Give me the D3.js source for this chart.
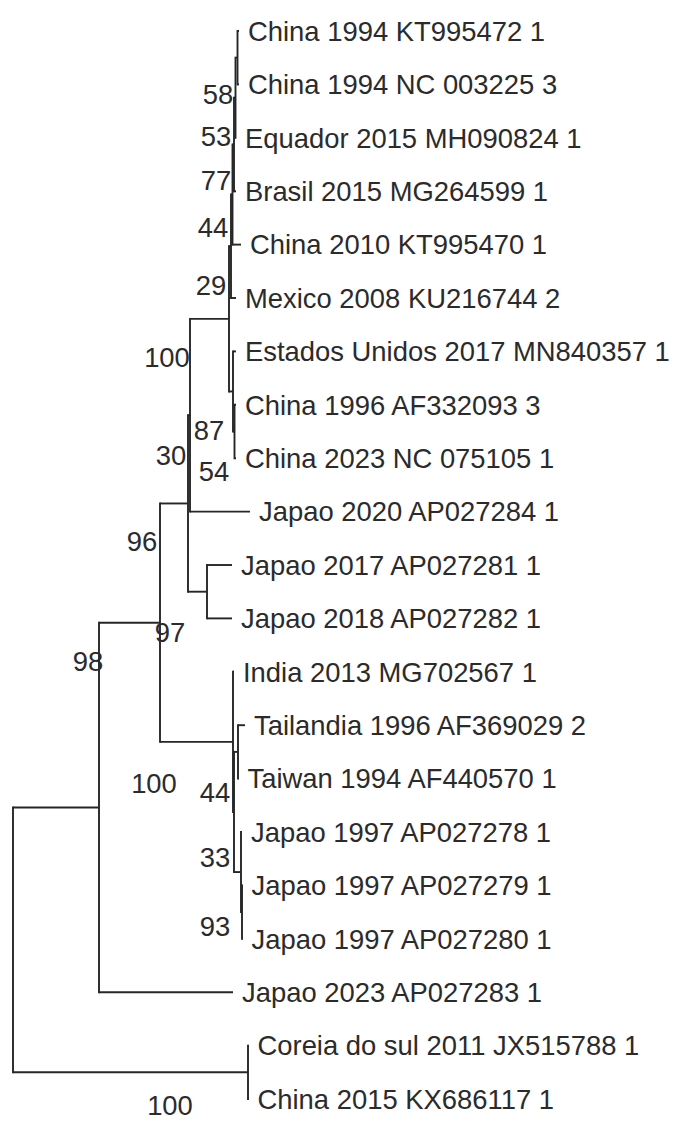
<!DOCTYPE html>
<html>
<head>
<meta charset="utf-8">
<script src="https://cdn.jsdelivr.net/npm/d3@7"></script>
<style>
  html, body { margin: 0; padding: 0; background: #fff; }
  svg { display: block; }
  text { font-family: "Liberation Sans", Arial, sans-serif; fill: #2b2b2b; }
</style>
</head>
<body>
<svg id="chart" width="673" height="1124"></svg>
<script>
// ---- DATA ----
// Leaf taxa, in drawing order (top to bottom)
const taxa = [
  "China 1994 KT995472 1",
  "China 1994 NC 003225 3",
  "Equador 2015 MH090824 1",
  "Brasil 2015 MG264599 1",
  "China 2010 KT995470 1",
  "Mexico 2008 KU216744 2",
  "Estados Unidos 2017 MN840357 1",
  "China 1996 AF332093 3",
  "China 2023 NC 075105 1",
  "Japao 2020 AP027284 1",
  "Japao 2017 AP027281 1",
  "Japao 2018 AP027282 1",
  "India 2013 MG702567 1",
  "Tailandia 1996 AF369029 2",
  "Taiwan 1994 AF440570 1",
  "Japao 1997 AP027278 1",
  "Japao 1997 AP027279 1",
  "Japao 1997 AP027280 1",
  "Japao 2023 AP027283 1",
  "Coreia do sul 2011 JX515788 1",
  "China 2015 KX686117 1"
];

// Edges: [node, parent, branch length]
const edges = [
  ["root", "", 0],
  ["A", "root", 0.086],
  ["G", "root", 0.235],
  ["B", "A", 0.061],
  ["Japao 2023 AP027283 1", "A", 0.134],
  ["C2", "B", 0.028],
  ["F", "B", 0.073],
  ["C1", "C2", 0.002],
  ["E", "C2", 0.019],
  ["D", "C1", 0.039],
  ["Japao 2020 AP027284 1", "C1", 0.060],
  ["n29", "D", 0.002],
  ["n54", "D", 0.004],
  ["n44", "n29", 0.0015],
  ["Mexico 2008 KU216744 2", "n29", 0.005],
  ["n77", "n44", 0.0015],
  ["China 2010 KT995470 1", "n44", 0.0085],
  ["n53", "n77", 0.0015],
  ["Brasil 2015 MG264599 1", "n77", 0.002],
  ["n58", "n53", 0.002],
  ["Equador 2015 MH090824 1", "n53", 0.0005],
  ["China 1994 KT995472 1", "n58", 0.0015],
  ["China 1994 NC 003225 3", "n58", 0.0015],
  ["Estados Unidos 2017 MN840357 1", "n54", 0.003],
  ["n87", "n54", 0.0015],
  ["China 1996 AF332093 3", "n87", 0.0015],
  ["China 2023 NC 075105 1", "n87", 0.0015],
  ["Japao 2017 AP027281 1", "E", 0.025],
  ["Japao 2018 AP027282 1", "E", 0.025],
  ["India 2013 MG702567 1", "F", 0.001],
  ["nF2", "F", 0.001],
  ["nTT", "nF2", 0.004],
  ["n33", "nF2", 0.007],
  ["Tailandia 1996 AF369029 2", "nTT", 0.007],
  ["Taiwan 1994 AF440570 1", "nTT", 0.0005],
  ["Japao 1997 AP027278 1", "n33", 0.001],
  ["n93", "n33", 0.001],
  ["Japao 1997 AP027279 1", "n93", 0.0005],
  ["Japao 1997 AP027280 1", "n93", 0.0005],
  ["Coreia do sul 2011 JX515788 1", "G", 0.0005],
  ["China 2015 KX686117 1", "G", 0.0005]
];

// Bootstrap support values: [node, value]
const bootstrap = [
  ["n58", 58], ["n53", 53], ["n77", 77], ["n44", 44], ["n29", 29],
  ["D", 100], ["n54", 87], ["n87", 54], ["C1", 30], ["C2", 96],
  ["B", 97], ["A", 98], ["F", 100], ["nF2", 44], ["n33", 33],
  ["n93", 93], ["G", 100]
];

// ---- LAYOUT (label placement relative to node) ----
const supportOffset = {
  n58: [-19.5, 36.5], n53: [-19.5, 38.5], n77: [-18, 36], n44: [-19.5, 33],
  n29: [-20, 38.5], D: [-62, 38], n54: [-24, 38.5], n87: [-20.5, 39.5],
  C1: [-19, 39.5], C2: [-46, 37.5], B: [10, 9.5], A: [-11, -146.5],
  F: [-79, 41], nF2: [-19, -20], n33: [-26, -15], n93: [-27, 14],
  G: [-78, 33]
};

const svg = d3.select("#chart");
const FONT = 27.4;
const lineColor = "#262626";

const root = d3.stratify()
  .id(d => d[0])
  .parentId(d => d[1] === "" ? null : d[1])(edges);

// cumulative distance from root
root.eachBefore(n => {
  n.dist = n.parent ? n.parent.dist + n.data[2] : 0;
});

const leafIndex = new Map(taxa.map((t, i) => [t, i]));
root.eachAfter(n => {
  n.minLeaf = n.children ? d3.min(n.children, c => c.minLeaf) : leafIndex.get(n.id);
});
root.sort((a, b) => a.minLeaf - b.minLeaf);

const x = d3.scaleLinear().domain([0, 0.25]).range([13, 263]);
const y = d3.scalePoint().domain(taxa).range([31, 1099]);

root.eachAfter(n => {
  n.px = x(n.dist);
  if (n.children) {
    n.py = (n.children[0].py + n.children[n.children.length - 1].py) / 2;
  } else {
    n.py = y(n.id);
  }
});

const g = svg.append("g");

// vertical connectors
const internals = root.descendants().filter(n => n.children);
g.selectAll("line.v").data(internals).join("line")
  .attr("class", "v")
  .attr("x1", d => d.px).attr("x2", d => d.px)
  .attr("y1", d => d.children[0].py)
  .attr("y2", d => d.children[d.children.length - 1].py)
  .attr("stroke", lineColor).attr("stroke-width", 1.9)
  .attr("stroke-linecap", "square");

// horizontal branches
const nonRoot = root.descendants().filter(n => n.parent);
g.selectAll("line.h").data(nonRoot).join("line")
  .attr("class", "h")
  .attr("x1", d => d.parent.px).attr("x2", d => d.px)
  .attr("y1", d => d.py).attr("y2", d => d.py)
  .attr("stroke", lineColor).attr("stroke-width", 1.9);

// leaf labels
g.selectAll("text.leaf").data(root.leaves()).join("text")
  .attr("class", "leaf")
  .attr("x", d => d.px + 9)
  .attr("y", d => d.py)
  .attr("dy", "0.36em")
  .attr("font-size", FONT)
  .text(d => d.id);

// bootstrap labels
const nodeById = new Map(root.descendants().map(n => [n.id, n]));
g.selectAll("text.bs").data(bootstrap).join("text")
  .attr("class", "bs")
  .attr("text-anchor", "middle")
  .attr("x", d => nodeById.get(d[0]).px + supportOffset[d[0]][0])
  .attr("y", d => nodeById.get(d[0]).py + supportOffset[d[0]][1])
  .attr("dy", "0.36em")
  .attr("font-size", FONT)
  .text(d => d[1]);
</script>
</body>
</html>
